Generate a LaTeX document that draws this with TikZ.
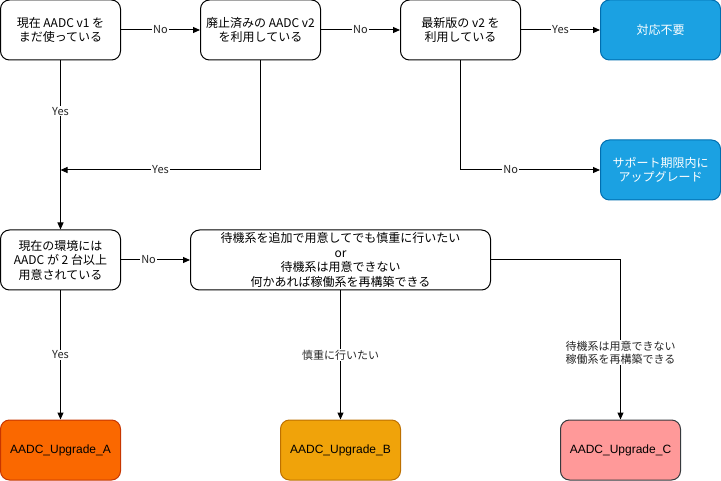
\documentclass[tikz,border=0pt]{standalone}
\usepackage{fontspec}
\setmainfont{Liberation Sans}
\newfontfamily\jp{Noto Sans CJK JP}
\usetikzlibrary{arrows.meta}
\begin{document}
\begin{tikzpicture}[x=1pt,y=-1pt,
  box/.style={draw=black,line width=1pt,rounded corners=9pt,minimum width=120pt,minimum height=60pt,inner sep=0pt,align=center,font=\jp\fontsize{12}{14.5}\selectfont},
  bluebox/.style={box,fill=cBlue,draw=cBlueS,text=white},
  arr/.style={line width=1pt,-{Triangle[length=7pt,width=6pt]}},
  lbl/.style={fill=white,inner sep=1pt,text=black!85,font=\jp\fontsize{11}{13}\selectfont,align=center}]
\definecolor{cBlue}{HTML}{1BA1E2}
\definecolor{cBlueS}{HTML}{006EAF}
\definecolor{cA}{HTML}{FA6800}
\definecolor{cAS}{HTML}{C73500}
\definecolor{cB}{HTML}{F0A30A}
\definecolor{cBS}{HTML}{BD7000}
\definecolor{cC}{HTML}{FF9999}
\definecolor{cCS}{HTML}{36393D}
\useasboundingbox (0,0) rectangle (721,481);
\node[box] (n1) at (60.5,30) {現在 AADC v1 を\\まだ使っている};
\node[box] (n2) at (260.5,30) {廃止済みの AADC v2\\を利用している};
\node[box] (n3) at (460.5,30) {最新版の v2 を\\利用している};
\node[bluebox] (ok) at (660.5,30) {対応不要};
\node[bluebox] (sup) at (660.5,170) {サポート期限内に\\アップグレード};
\node[box] (n4) at (60.5,260) {現在の環境には\\AADC が 2 台以上\\用意されている};
\node[box,minimum width=300pt] (n5) at (340.5,260) {待機系を追加で用意してでも慎重に行いたい\\or\\待機系は用意できない\\何かあれば稼働系を再構築できる};
\node[box,fill=cA,draw=cAS,font=\fontsize{12}{14}\selectfont] (a) at (60.5,450) {AADC\_Upgrade\_A};
\node[box,fill=cB,draw=cBS,font=\fontsize{12}{14}\selectfont] (b) at (340.5,450) {AADC\_Upgrade\_B};
\node[box,fill=cC,draw=cCS,font=\fontsize{12}{14}\selectfont] (c) at (620.5,450) {AADC\_Upgrade\_C};
\coordinate (j) at (60.5,170);
\draw[arr] (n1) -- node[lbl]{No} (n2);
\draw[arr] (n2) -- node[lbl]{No} (n3);
\draw[arr] (n3) -- node[lbl]{Yes} (ok);
\draw[arr] (n3.south) |- node[lbl,pos=0.68]{No} (sup.west);
\draw[arr] (n1.south) -- node[lbl,pos=0.3]{Yes} (n4.north);
\draw[arr] (n2.south) |- node[lbl,pos=0.75]{Yes} (j);
\draw[arr] (n4) -- node[lbl,pos=0.4]{No} (n5);
\draw[arr] (n4.south) -- node[lbl]{Yes} (a.north);
\draw[arr] (n5.south) -- node[lbl]{慎重に行いたい} (b.north);
\draw[arr] (n5.east) -| node[lbl,pos=0.79]{待機系は用意できない\\稼働系を再構築できる} (c.north);
\end{tikzpicture}
\end{document}
